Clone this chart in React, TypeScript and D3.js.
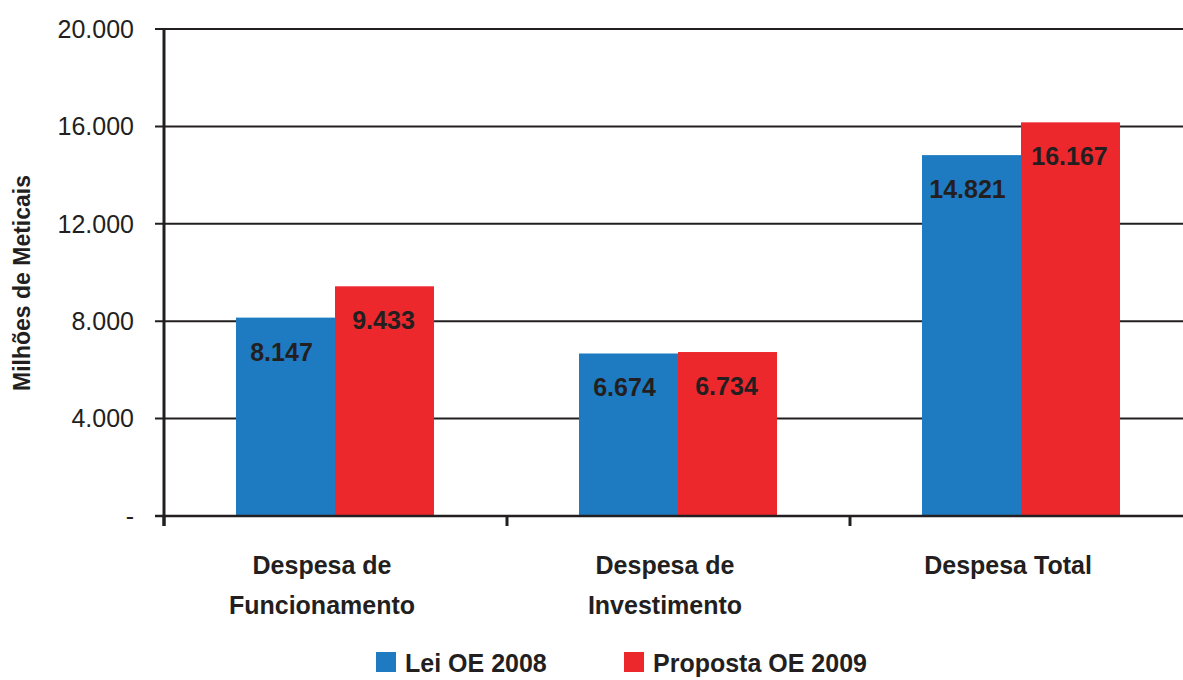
import React, { useEffect, useRef } from 'react';
import * as d3 from 'd3';

const categories = [['Despesa de', 'Funcionamento'], ['Despesa de', 'Investimento'], ['Despesa Total']];
const series = ['Lei OE 2008', 'Proposta OE 2009'];
const lei2008 = [8147, 6674, 14821];
const proposta2009 = [9433, 6734, 16167];
const yTicks = [0, 4000, 8000, 12000, 16000, 20000];
const colors = ['#1f7bc1', '#ec282d'];

const W = 1183;
const H = 680;
const ink = '#231f20';
const font = '"Liberation Sans", Arial, Helvetica, sans-serif';

const fmt = (v: number) => (v === 0 ? '-' : d3.format(',')(v).replace(/,/g, '.'));

const App = () => {
    const ref = useRef<SVGSVGElement>(null);

    useEffect(() => {
        const svg = d3.select(ref.current);
        svg.selectAll('*').remove();

        const x0 = d3.scaleBand<number>()
            .domain(d3.range(categories.length))
            .range([164, 1193])
            .padding(0);
        const x1 = d3.scaleBand<number>()
            .domain(d3.range(series.length))
            .range([72, 270]);
        const y = d3.scaleLinear().domain([0, 20000]).range([516, 29]);

        // gridlines + y ticks
        svg.append('g')
            .selectAll('line')
            .data(yTicks)
            .join('line')
            .attr('x1', 155)
            .attr('x2', W)
            .attr('y1', d => y(d))
            .attr('y2', d => y(d))
            .attr('stroke', ink)
            .attr('stroke-width', 2);

        svg.append('g')
            .selectAll('text')
            .data(yTicks)
            .join('text')
            .attr('x', 134)
            .attr('y', d => y(d))
            .attr('dy', '0.35em')
            .attr('text-anchor', 'end')
            .style('font-family', font)
            .style('font-size', '25px')
            .attr('fill', ink)
            .text(d => fmt(d));

        const data = categories.map((c, i) => [lei2008[i], proposta2009[i]]);

        const groups = svg.append('g')
            .selectAll('g')
            .data(data)
            .join('g')
            .attr('transform', (d, i) => `translate(${x0(i)},0)`);

        groups.selectAll('rect')
            .data(d => d)
            .join('rect')
            .attr('x', (d, j) => x1(j)!)
            .attr('width', x1.bandwidth())
            .attr('y', d => y(d))
            .attr('height', d => y(0) - y(d))
            .attr('fill', (d, j) => colors[j]);

        groups.selectAll('text')
            .data(d => d)
            .join('text')
            .attr('x', (d, j) => x1(j)! + x1.bandwidth() / 2 - (j === 0 ? 4 : 1))
            .attr('y', d => y(d) + 43)
            .attr('text-anchor', 'middle')
            .style('font-family', font)
            .style('font-size', '25px')
            .style('font-weight', 'bold')
            .attr('fill', ink)
            .text(d => fmt(d));

        // axes lines
        svg.append('line')
            .attr('x1', 164).attr('x2', 164)
            .attr('y1', 28).attr('y2', 526)
            .attr('stroke', ink).attr('stroke-width', 3);
        svg.append('line')
            .attr('x1', 155).attr('x2', W)
            .attr('y1', y(0)).attr('y2', y(0))
            .attr('stroke', ink).attr('stroke-width', 2.5);
        svg.append('g')
            .selectAll('line')
            .data(d3.range(categories.length))
            .join('line')
            .attr('x1', d => x0(d)!)
            .attr('x2', d => x0(d)!)
            .attr('y1', y(0))
            .attr('y2', 526)
            .attr('stroke', ink)
            .attr('stroke-width', 3);

        // category labels
        const cat = svg.append('g')
            .selectAll('text')
            .data(categories)
            .join('text')
            .attr('x', (d, i) => x0(i)! + 158)
            .attr('y', 574)
            .attr('text-anchor', 'middle')
            .style('font-family', font)
            .style('font-size', '25px')
            .style('font-weight', 'bold')
            .attr('fill', ink);
        cat.selectAll('tspan')
            .data(d => d)
            .join('tspan')
            .attr('x', function () { return (this.parentNode as SVGTextElement).getAttribute('x'); })
            .attr('dy', (d, k) => (k === 0 ? 0 : 40))
            .text(d => d);

        // y title
        svg.append('text')
            .attr('transform', 'translate(30,283) rotate(-90)')
            .attr('text-anchor', 'middle')
            .style('font-family', font)
            .style('font-size', '23px')
            .style('font-weight', 'bold')
            .attr('fill', ink)
            .text('Milhões de Meticais');

        // legend
        const legX = [376, 624];
        const leg = svg.append('g')
            .selectAll('g')
            .data(series)
            .join('g')
            .attr('transform', (d, i) => `translate(${legX[i]},652)`);
        leg.append('rect')
            .attr('width', 20)
            .attr('height', 20)
            .attr('fill', (d, i) => colors[i]);
        leg.append('text')
            .attr('x', 29)
            .attr('y', 20)
            .style('font-family', font)
            .style('font-size', '25px')
            .style('font-weight', 'bold')
            .attr('fill', ink)
            .text(d => d);
    }, []);

    return (
        <svg
            ref={ref}
            width={W}
            height={H}
            style={{ position: 'absolute', left: 0, top: 0, background: '#fff' }}
        />
    );
};

export default App;
